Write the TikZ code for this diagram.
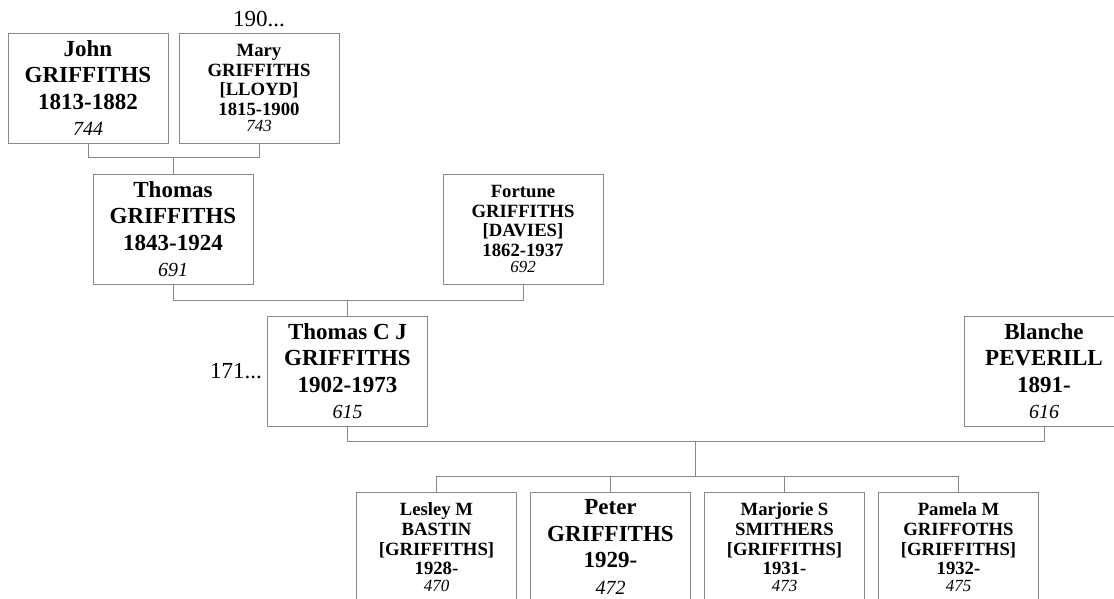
\documentclass[tikz,border=0pt]{standalone}
\usepackage{fontspec}
\setmainfont{Liberation Serif}
\usepackage{tikz}
\usetikzlibrary{positioning, calc}
\definecolor{boxGrey}{HTML}{888888}
\newcommand{\bigname}{\fontsize{23}{26.5}\selectfont\bfseries}
\newcommand{\smallname}{\fontsize{18.7}{19.7}\selectfont\bfseries}
\newcommand{\bigno}[1]{{\fontsize{20}{24}\selectfont\mdseries\itshape #1}}
\newcommand{\smallno}[1]{{\fontsize{17}{18}\selectfont\mdseries\itshape #1}}

\begin{document}
\begin{tikzpicture}[x=1pt, y=-1pt,
  person/.style={draw=boxGrey, line width=1pt, minimum width=160pt,
                 minimum height=110pt, inner sep=2pt, align=center, font=\bigname},
  personsm/.style={person, font=\smallname},
  link/.style={draw=boxGrey, line width=1pt},
  ellip/.style={font=\fontsize{23}{26}\selectfont, inner sep=0pt}]
  \useasboundingbox (0,0) rectangle (1114,598);
  \clip (0,0) rectangle (1114,598);

  % grandparents
  \node[person] (john) at (88,88) {John\\GRIFFITHS\\1813-1882\\\bigno{744}};
  \node[personsm, right=10pt of john] (mary)
    {Mary\\GRIFFITHS\\{[LLOYD]}\\1815-1900\\[-3.5pt]\smallno{743}};
  \node[ellip, above=5pt of mary] (marymore) {190...};

  % parents
  \node[person] (thomas) at (173,229) {Thomas\\GRIFFITHS\\1843-1924\\\bigno{691}};
  \node[personsm, right=189pt of thomas] (fortune)
    {Fortune\\GRIFFITHS\\{[DAVIES]}\\1862-1937\\[-3.5pt]\smallno{692}};

  % couple
  \node[person] (tcj) at (347.5,371) {Thomas C J\\GRIFFITHS\\1902-1973\\\bigno{615}};
  \node[ellip, left=5pt of tcj] (tcjmore) {171...};
  \node[person] (blanche) at (1044,371) {Blanche\\PEVERILL\\1891-\\\bigno{616}};

  % children
  \node[personsm] (lesley) at (436.5,547)
    {Lesley M\\BASTIN\\{[GRIFFITHS]}\\1928-\\[-3.5pt]\smallno{470}};
  \node[person, right=13pt of lesley] (peter) {Peter\\GRIFFITHS\\1929-\\\bigno{472}};
  \node[personsm, right=13pt of peter] (marjorie)
    {Marjorie S\\SMITHERS\\{[GRIFFITHS]}\\1931-\\[-3.5pt]\smallno{473}};
  \node[personsm, right=13pt of marjorie] (pamela)
    {Pamela M\\GRIFFOTHS\\{[GRIFFITHS]}\\1932-\\[-3.5pt]\smallno{475}};

  % connectors
  \draw[link] (john.south) -- ++(0,14) coordinate (j1) -| (mary.south);
  \draw[link] (thomas.north) -- (thomas.north |- j1);
  \draw[link] (thomas.south) -- ++(0,16) coordinate (j2) -| (fortune.south);
  \draw[link] (tcj.north) -- (tcj.north |- j2);
  \draw[link] (tcj.south) -- ++(0,15) coordinate (j3) -| (blanche.south);
  \draw[link] (lesley.north) -- ++(0,-15) coordinate (j4) -| (pamela.north);
  \draw[link] (peter.north) -- (peter.north |- j4);
  \draw[link] (marjorie.north) -- (marjorie.north |- j4);
  \coordinate (fam) at ($(tcj.south)!0.5!(blanche.south)$);
  \draw[link] (fam |- j3) -- (fam |- j4);
\end{tikzpicture}
\end{document}
